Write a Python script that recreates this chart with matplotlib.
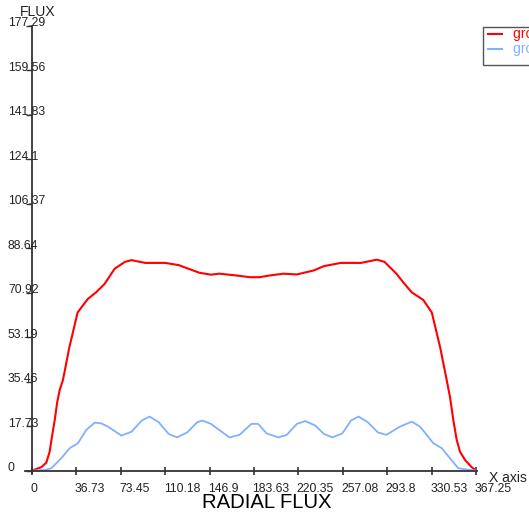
import matplotlib
matplotlib.use('Agg')
import matplotlib.pyplot as plt
from matplotlib.lines import Line2D
from matplotlib.patches import Rectangle
from matplotlib.transforms import blended_transform_factory, offset_copy, ScaledTranslation

plt.rcParams['font.family'] = ['Liberation Sans', 'DejaVu Sans']

# --- data ---
xtick_labels = ['0', '36.73', '73.45', '110.18', '146.9', '183.63', '220.35',
                '257.08', '293.8', '330.53', '367.25']
ytick_labels = ['0', '17.73', '35.46', '53.19', '70.92', '88.64', '106.37',
                '124.1', '141.83', '159.56', '177.29']

red_x = [0, 7.7, 11.8, 14.6, 16.5, 18.8, 20.9, 22.9, 25.6, 30.8, 37.7, 46.1, 53.1,
         60.0, 68.4, 76.8, 82.4, 93.5, 110.3, 121.4, 138.2, 148.0, 154.9, 168.9,
         180.0, 188.4, 196.8, 207.9, 219.1, 233.1, 241.4, 255.4, 272.1, 285.3,
         291.6, 301.4, 307.0, 314.0, 323.7, 330.7, 337.7, 343.0, 345.7, 348.5,
         351.3, 354.0, 358.2, 363.7, 367.25]
red_y = [0, 1.3, 3.1, 7.5, 13.5, 20.1, 27.4, 32.1, 36.1, 48.9, 63.0, 68.4, 71.1,
         74.4, 80.5, 83.2, 83.9, 82.8, 82.8, 81.9, 78.9, 78.1, 78.5, 77.8,
         77.1, 77.1, 77.8, 78.5, 78.2, 79.8, 81.5, 82.8, 82.8, 84.1,
         83.2, 78.5, 75.1, 71.1, 68.0, 63.0, 48.9, 36.1, 29.4, 20.1,
         12.2, 7.5, 4.2, 1.3, 0]

blue_x = [0, 10.5, 16.0, 24.2, 31.2, 38.0, 44.9, 51.9, 57.3, 62.9, 74.0, 82.4, 90.7,
          97.2, 104.7, 113.0, 120.0, 128.4, 136.8, 140.9, 148.0, 163.3, 171.6,
          181.5, 187.0, 194.0, 203.7, 210.7, 219.1, 226.1, 234.4, 241.4, 248.4,
          256.7, 263.8, 270.1, 277.7, 286.1, 293.1, 304.4, 314.1, 320.9, 326.5,
          331.9, 338.9, 345.7, 352.6, 362.3, 367.25]
blue_y = [0, 0.2, 0.9, 4.9, 8.9, 10.9, 16.2, 19.1, 18.8, 17.5, 13.9, 15.5, 19.9,
          21.5, 19.3, 14.6, 13.2, 15.2, 19.3, 19.9, 18.6, 13.2, 14.2,
          18.6, 18.6, 14.8, 13.2, 14.2, 18.6, 19.7, 17.9, 14.6, 13.2,
          14.8, 19.9, 21.5, 19.3, 15.2, 14.2, 17.5, 19.5, 17.5, 14.2,
          10.9, 8.9, 4.9, 0.9, 0.2, 0]

series_names = ['group 1', 'group 2']
series_colors = ['#ff0000', '#80b0ff']
series_widths = [1.5, 1.3]

# --- layout (pixels) ---
W, H = 529, 518
fig = plt.figure(figsize=(W / 100, H / 100), dpi=100)

x_max = float(xtick_labels[-1])
y_max = float(ytick_labels[-1])
x0_px, x1_px = 32, 476
y0_px, y1_px = 470.5, 26
sx = (x1_px - x0_px) / x_max
sy = (y0_px - y1_px) / y_max
xlo, xhi, ylo = -5.5, x_max + 0.8, -1.0
left_px = x0_px + xlo * sx
right_px = x0_px + xhi * sx
bot_px = y0_px - ylo * sy
ax = fig.add_axes([left_px / W, 1 - bot_px / H,
                   (right_px - left_px) / W, (bot_px - y1_px) / H])

lines = []
for xs, ys, c, lw, name in zip([red_x, blue_x], [red_y, blue_y], series_colors,
                               series_widths, series_names):
    ln, = ax.plot(xs, ys, color=c, lw=lw, label=name, clip_on=False)
    lines.append(ln)

ax.set_xlim(xlo, xhi)
ax.set_ylim(ylo, y_max)

for s in ['top', 'right']:
    ax.spines[s].set_visible(False)
for s in ['left', 'bottom']:
    ax.spines[s].set_position(('data', 0))
    ax.spines[s].set_color('#333333')
    ax.spines[s].set_linewidth(1.3)

ax.set_xticks([float(t) for t in xtick_labels], labels=xtick_labels)
ax.tick_params(axis='x', direction='inout', length=6, width=1.2, color='#333333',
               pad=6, labelsize=8.7, labelcolor='#222222')
for lbl in ax.get_xticklabels():
    lbl.set_ha('left')
    lbl.set_transform(lbl.get_transform() + ScaledTranslation(-1.5 / 100, 0, fig.dpi_scale_trans))

ax.set_yticks([float(t) for t in ytick_labels], labels=[])
ax.tick_params(axis='y', direction='out', length=4, width=1.0, color='#333333')
ylab_tr = offset_copy(blended_transform_factory(fig.transFigure, ax.transData),
                      fig=fig, x=0, y=2.5, units='dots')
for t in ytick_labels:
    ax.text(8 / W, float(t), t, transform=ylab_tr, ha='left', va='center',
            fontsize=8.7, color='#222222')

fig.text(38 / W, 1 - 12 / H, 'FLUX', ha='center', va='center', fontsize=10, color='#222222')
fig.text(489 / W, 1 - 482.5 / H, 'X axis', ha='left', va='baseline', fontsize=10, color='#222222')
fig.text(266.5 / W, 1 - 503 / H, 'RADIAL FLUX', ha='center', va='center', fontsize=14.6, color='black')

# legend box, partly running off the right edge as in the reference
fig.patches.append(Rectangle((482.7 / W, 1 - 65 / H), 60 / W, 37.7 / H,
                             transform=fig.transFigure, facecolor='white',
                             edgecolor='#555555', lw=1.0, zorder=5))
for i, ln in enumerate(lines):
    yy = 1 - (34 + 15.3 * i) / H
    fig.lines.append(Line2D([488.3 / W, 501.7 / W], [yy, yy], transform=fig.transFigure,
                            color=ln.get_color(), lw=1.5, zorder=6))
    fig.text(512.7 / W, yy, ln.get_label(), ha='left', va='center', fontsize=10,
             color=ln.get_color(), zorder=6)

fig.savefig('out.png', dpi=100)
